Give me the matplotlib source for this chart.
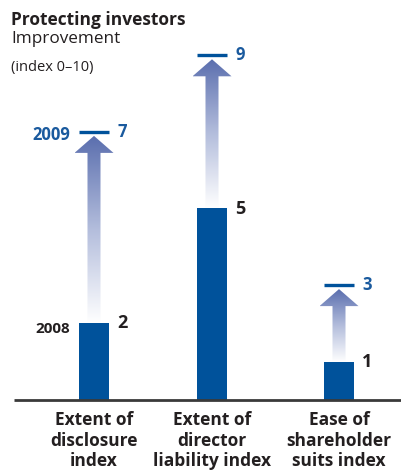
import numpy as np
import matplotlib
matplotlib.use("Agg")
import matplotlib.pyplot as plt
from matplotlib.patches import Polygon
from matplotlib.colors import LinearSegmentedColormap

plt.rcParams['font.family'] = ['Open Sans', 'DejaVu Sans']

categories = ["Extent of\ndisclosure\nindex", "Extent of\ndirector\nliability index",
              "Ease of\nshareholder\nsuits index"]
v2008 = [2, 5, 1]
v2009 = [7, 9, 3]
xpos = [94, 212, 339]   # bar centres in px

W, H = 401, 472
fig = plt.figure(figsize=(W / 100, H / 100), dpi=100)
base = 400          # baseline px from top
ppu = 38.3          # px per index unit
ax = fig.add_axes([0, (H - base) / H, 1, 10 * ppu / H])
ax.set_xlim(0, W)
ax.set_ylim(0, 10)
ax.axis('off')

dark = '#231f20'
barc = '#00529b'
blue = '#1a5a9e'
bw = 30

ax.bar(xpos, v2008, width=bw, color=barc, zorder=3)
ax.plot([14, W], [0, 0], color='#3a3a3a', lw=2, solid_capstyle='butt', clip_on=False, zorder=4)

cmap = LinearSegmentedColormap.from_list('arr', ['#ffffff', '#b3bddc', '#5a6eae'])
grad = np.linspace(0, 1, 256).reshape(-1, 1)
u = 1 / ppu
for x, a, b in zip(xpos, v2008, v2009):
    tip = b - 4 * u
    hb = b - 21 * u
    sw, hw = 6.5, 19.5
    poly = Polygon([(x - sw, a), (x + sw, a), (x + sw, hb), (x + hw, hb), (x, tip),
                    (x - hw, hb), (x - sw, hb)], closed=True, facecolor='none',
                   edgecolor='none')
    ax.add_patch(poly)
    im = ax.imshow(grad, extent=[x - hw, x + hw, a, tip], origin='lower', cmap=cmap,
                   aspect='auto', zorder=2)
    im.set_clip_path(poly)
    ax.plot([x - bw / 2, x + bw / 2], [b, b], color=barc, lw=2.4, solid_capstyle='butt', zorder=3)
    ax.text(x + bw / 2 + 8, a, str(a), fontsize=13, fontweight='bold', color=dark,
            ha='left', va='center')
    ax.text(x + bw / 2 + 8, b, str(b), fontsize=12, fontweight='bold', color=blue,
            ha='left', va='center')
    ax.set_xlim(0, W)

ax.text(xpos[0] - bw / 2 - 9, v2008[0] - 6 * u, '2008', fontsize=11, fontweight='bold',
        color=dark, ha='right', va='center')
ax.text(xpos[0] - bw / 2 - 9, v2009[0] - 3 * u, '2009', fontsize=12, fontweight='bold',
        color=blue, ha='right', va='center')

for x, c in zip(xpos, categories):
    ax.text(x, -0.3, c, fontsize=12.5, fontweight='bold', color=dark, ha='center',
            va='top', linespacing=1.16)

fig.text(11 / W, 1 - 25 / H, 'Protecting investors', fontsize=12.5, fontweight='bold',
         color=dark, ha='left', va='baseline')
fig.text(11 / W, 1 - 43 / H, 'Improvement', fontsize=12.3, color=dark, ha='left',
         va='baseline')
fig.text(11 / W, 1 - 71 / H, '(index 0\u201310)', fontsize=10.5, color=dark, ha='left',
         va='baseline')

fig.savefig('out.png', dpi=100)
